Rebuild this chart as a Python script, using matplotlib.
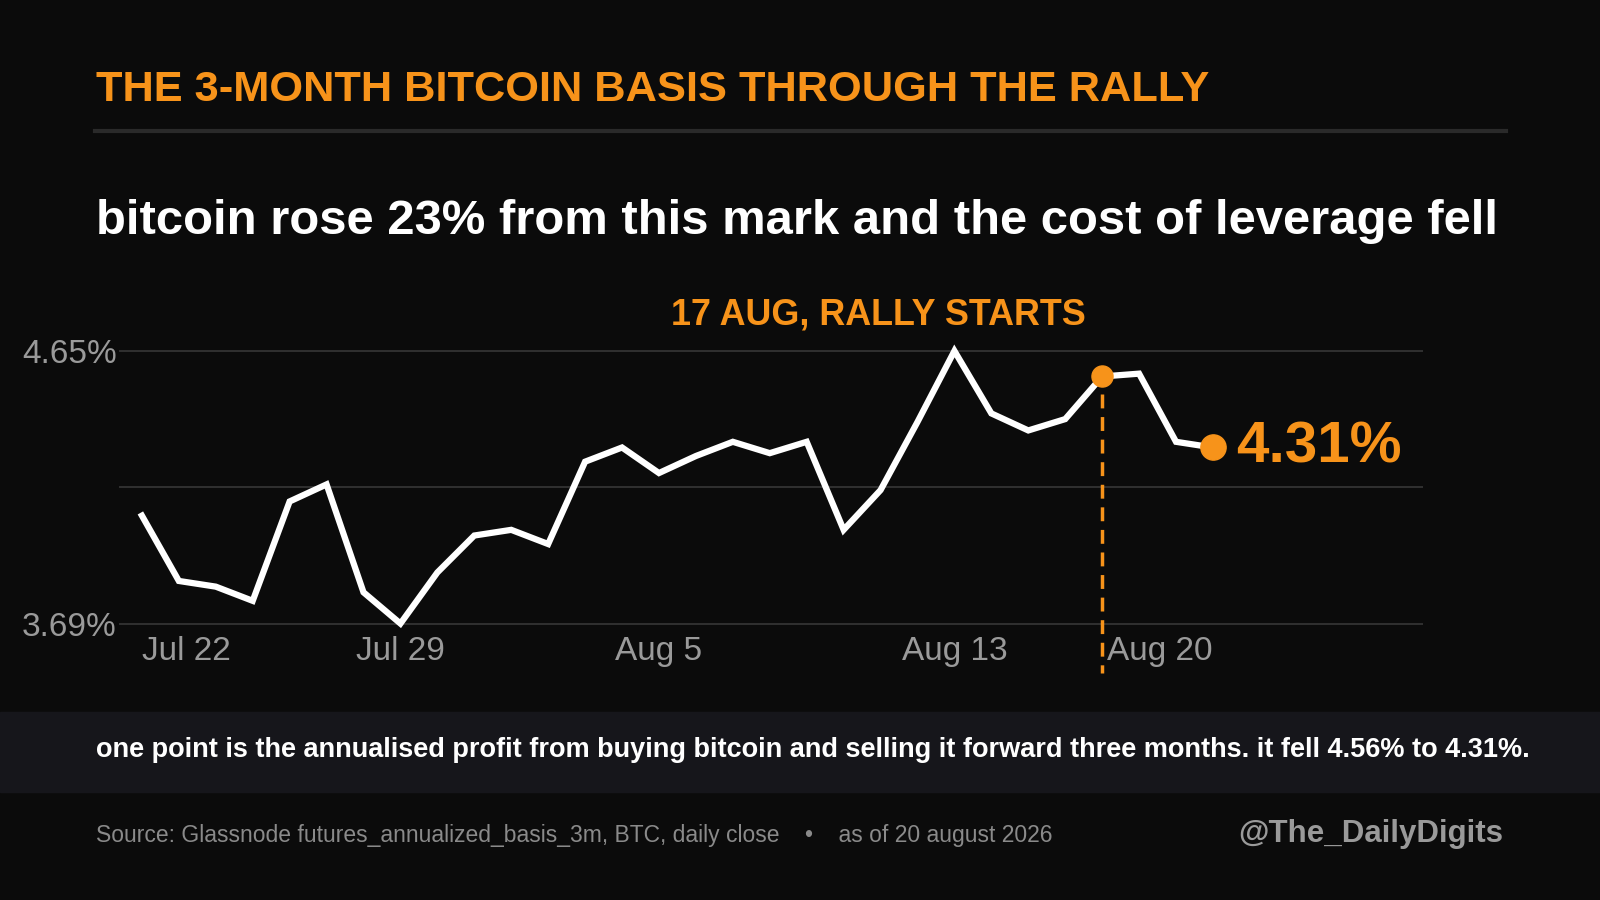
import numpy as np
import pandas as pd
import matplotlib
matplotlib.use("Agg")
import matplotlib.pyplot as plt
import matplotlib.dates as mdates

plt.rcParams['font.family'] = ['Liberation Sans', 'DejaVu Sans']

BG = "#0b0b0b"
ORANGE = "#f7931a"
W, H = 1568, 882  # reference layout size in px

# 3m annualised basis, daily close (%)
dates = pd.date_range("2026-07-22", "2026-08-20", freq="D")
basis = [4.07, 3.84, 3.82, 3.77, 4.12, 4.18, 3.80, 3.69, 3.87, 4.00,
         4.02, 3.97, 4.26, 4.31, 4.22, 4.28, 4.33, 4.29, 4.33, 4.02,
         4.16, 4.40, 4.65, 4.43, 4.37, 4.41, 4.56, 4.57, 4.33, 4.31]
df = pd.DataFrame({"date": dates, "basis": basis})

fig = plt.figure(figsize=(16, 9), dpi=100, facecolor=BG)

def fx(px): return px / W
def fy(py): return 1 - py / H

# axes placement taken from the reference layout
ax = fig.add_axes([fx(117), fy(625), fx(1395) - fx(117), fy(330) - fy(625)])
ax.set_facecolor(BG)
d0 = mdates.date2num(dates[0])
ax.set_xlim(d0 - 0.61, d0 + 34.7)
ax.set_ylim(3.64, 4.70)

for yv in [3.69, 4.17, 4.65]:
    ax.axhline(yv, color="#333333", lw=1.3, zorder=0)

ax.plot(df["date"], df["basis"], color="white", lw=4.5, solid_joinstyle="miter", zorder=3)

# rally start marker and last value
rally = df[df["date"] == "2026-08-17"].iloc[0]
ax.plot([rally["date"]] * 2, [rally["basis"] - 0.06, 3.515], color=ORANGE, lw=2.5,
        ls=(0, (4, 2.5)), clip_on=False, zorder=2)
ax.scatter([rally["date"]], [rally["basis"]], s=230, color=ORANGE, zorder=4, clip_on=False)
last = df.iloc[-1]
ax.scatter([last["date"]], [last["basis"]], s=330, color=ORANGE, zorder=4, clip_on=False)
ax.annotate(f"{last['basis']:.2f}%", (mdates.date2num(last["date"]), last["basis"]),
            xytext=(17, 0), textcoords="offset points", va="center", ha="left",
            color=ORANGE, fontsize=42, fontweight="bold")

for s in ax.spines.values():
    s.set_visible(False)
ax.tick_params(length=0, colors="#9a9a9a", labelsize=24)
ax.set_yticks([3.69, 4.65])
ax.set_yticklabels(["3.69%", "4.65%"])
ax.yaxis.set_tick_params(pad=2)
ax.xaxis.set_tick_params(pad=-1)
ticks = pd.to_datetime(["2026-07-22", "2026-07-29", "2026-08-05", "2026-08-13", "2026-08-20"])
ax.set_xticks(ticks)
ax.set_xticklabels(["Jul 22", "Jul 29", "Aug 5", "Aug 13", "Aug 20"])
labs = ax.get_xticklabels()
labs[0].set_ha("left")
labs[-1].set_ha("right")

# header
fig.text(fx(94), fy(88), "THE 3-MONTH BITCOIN BASIS THROUGH THE RALLY", color=ORANGE,
         fontsize=31.2, fontweight="bold", va="center")
fig.add_artist(plt.Line2D([fx(93), fx(1476)], [fy(128)] * 2, color="#2a2a2a", lw=3))
fig.text(fx(94), fy(217), "bitcoin rose 23% from this mark and the cost of leverage fell",
         color="white", fontsize=35.3, fontweight="bold", va="center")
fig.text(fx(861), fy(309), "17 AUG, RALLY STARTS", color=ORANGE, fontsize=25.8,
         fontweight="bold", va="center", ha="center")

# footer band
fig.add_artist(plt.Rectangle((0, fy(776)), 1, fy(698) - fy(776), color="#16161b",
                             transform=fig.transFigure, zorder=0))
fig.text(fx(94), fy(735), "one point is the annualised profit from buying bitcoin and selling it "
         "forward three months. it fell 4.56% to 4.31%.", color="white", fontsize=19.5,
         fontweight="bold", va="center")
fig.text(fx(94), fy(819), "Source: Glassnode futures_annualized_basis_3m, BTC, daily close    \u2022    as of 20 august 2026",
         color="#8a8a8a", fontsize=16.5, va="center")
fig.text(fx(1473), fy(817), "@The_DailyDigits", color="#9a9a9a", fontsize=22.5,
         fontweight="bold", va="center", ha="right")

fig.savefig("out.png", facecolor=BG)
